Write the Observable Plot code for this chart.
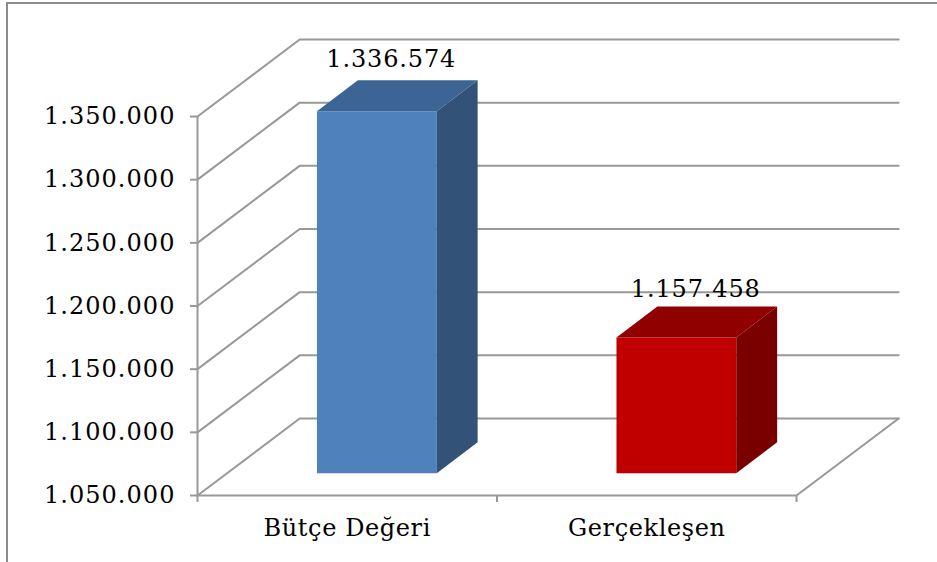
<!DOCTYPE html>
<html>
<head>
<meta charset="utf-8">
<script src="https://cdn.jsdelivr.net/npm/d3@7"></script>
<script src="https://cdn.jsdelivr.net/npm/@observablehq/plot@0.6"></script>
<style>
html,body{margin:0;padding:0;background:#fff;overflow:hidden}
#frame{position:absolute;left:6px;top:2px;width:940px;height:570px;border-left:2px solid #8c8c8c;border-top:2px solid #8c8c8c;box-sizing:border-box}
#chart{position:absolute;left:0;top:0}
svg{background:transparent!important}
svg text{letter-spacing:1.05px}
svg .val text, svg text.val{letter-spacing:.85px}
svg .cat text, svg text.cat{letter-spacing:.6px}
</style>
</head>
<body>
<div id="frame"></div>
<div id="chart"></div>
<script>
const categories = ["Bütçe Değeri", "Gerçekleşen"];
const values = [1336574, 1157458];
const frontColors = ["#4f81bd", "#c00000"];
const sideColors = ["#325277", "#7a0000"];
const topColors = ["#3c6494", "#900000"];
const yTicks = [1050000, 1100000, 1150000, 1200000, 1250000, 1300000, 1350000];
const xBoundaries = [0, 1, 2];

const yBase = 1050000;
const fmt = v => d3.format(",")(v).replace(/,/g, ".");

// Oblique projection of (category position, value, depth 0..1) into chart data space
const depthX = 102 / 299;
const depthY = 77 / 379 * 300000;
const P = (c, v, d) => ({x: c + d * depthX, y: v + d * depthY});

const font = "'DejaVu Serif', serif";
const gridColor = "#989898";
const gridLine = pts => Plot.line(pts, {x: "x", y: "y", stroke: gridColor, strokeWidth: 2});
const face = (pts, fill) => Plot.line(pts, {x: "x", y: "y", fill, stroke: "none", curve: "linear-closed"});

const marks = [];
// walls and floor
yTicks.forEach(v => marks.push(gridLine([P(0, v, 0), P(0, v, 1), P(2, v, 1)])));
marks.push(gridLine([P(0, yBase, 0), P(2, yBase, 0), P(2, yBase, 1)]));
marks.push(Plot.axisY({ticks: yTicks, tickFormat: fmt, tickSize: 7, tickPadding: 15, label: null,
  fontSize: 24, fontFamily: font, stroke: gridColor, strokeWidth: 2, color: "#000", fill: "#000"}));
marks.push(Plot.axisX({ticks: xBoundaries, tickFormat: () => "", tickSize: 7, label: null,
  stroke: gridColor, strokeWidth: 2}));
marks.push(Plot.ruleX([0], {y1: yBase, y2: yTicks[yTicks.length - 1], stroke: gridColor, strokeWidth: 2}));

// 3D bars
const d0 = 0.29, d1 = 0.69;
values.forEach((v, i) => {
  const a = i + 0.3, b = i + 0.7;
  marks.push(face([P(a, yBase, d0), P(b, yBase, d0), P(b, v, d0), P(a, v, d0)], frontColors[i]));
  marks.push(face([P(b, yBase, d0), P(b, yBase, d1), P(b, v, d1), P(b, v, d0)], sideColors[i]));
  marks.push(face([P(a, v, d0), P(b, v, d0), P(b, v, d1), P(a, v, d1)], topColors[i]));
});

// value labels
const lift = [-74, -70];
const shift = [44, 49];
values.forEach((v, i) => marks.push(Plot.text([v], {
  x: () => i + 0.5, y: d => d, text: fmt, dx: shift[i], dy: lift[i],
  fontSize: 24, fontFamily: font, fill: "#000", className: "val"
})));
// category labels
marks.push(Plot.text(categories, {
  x: (d, i) => i + 0.5, y: () => yBase, text: d => d, dy: 33,
  fontSize: 24, fontFamily: font, fill: "#000", className: "cat"
}));

const chart = Plot.plot({
  width: 937, height: 562,
  marginLeft: 197, marginRight: 141, marginTop: 116, marginBottom: 67,
  x: {domain: [0, 2], axis: null},
  y: {domain: [yBase, 1350000], axis: null},
  marks
});
document.getElementById("chart").appendChild(chart);
</script>
</body>
</html>
